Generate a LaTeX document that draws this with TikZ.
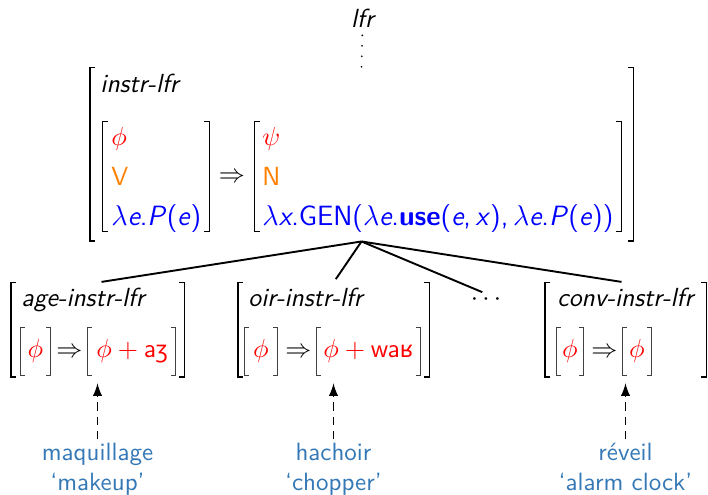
\documentclass[tikz,border=0pt]{standalone}
\usepackage{fontspec}
\newfontfamily\ipafont[Scale=0.88]{Noto Sans}
\usetikzlibrary{fit,positioning,arrows,calc}
\definecolor{phon}{RGB}{255,0,0}
\definecolor{cat}{RGB}{255,128,0}
\definecolor{sem}{RGB}{0,0,255}
\definecolor{glossblue}{RGB}{52,120,182}
\tikzset{
  every node/.style={inner sep=0pt, font=\sffamily\fontsize{11}{13}\selectfont},
  typ/.style={anchor=base west, font=\sffamily\itshape\fontsize{11}{13}\selectfont},
  row/.style={anchor=base west},
  semrow/.style={anchor=base west, font=\sffamily\fontsize{11.7}{14}\selectfont},
  sym/.style={anchor=base},
  box/.style={inner sep=0pt},
  outerbrk/.style={line width=0.82pt},
  innerbrk/.style={line width=0.8pt},
  featbrk/.style={line width=0.6pt, black!75},
  branch/.style={line width=0.8pt, shorten >=1.7pt},
  treedots/.style={line width=0.8pt, line cap=round, dash pattern=on 0pt off 4.4pt, shorten <=2.9pt},
  connect/.style={-latex, line width=0.8pt, dash pattern=on 3.6pt off 2.4pt, shorten <=1.5pt, shorten >=2.5pt},
  gloss/.style={text=glossblue, align=center, font=\sffamily\fontsize{10.5}{12.4}\selectfont}
}
\newcommand{\ipa}[1]{{\ipafont #1}}
% square brackets round a box node
\newcommand{\avmbrackets}[3][2.5pt]{%
  \draw[#2] ([xshift=#1]#3.north west) -- (#3.north west) -- (#3.south west) -- ([xshift=#1]#3.south west);
  \draw[#2] ([xshift=-#1]#3.north east) -- (#3.north east) -- (#3.south east) -- ([xshift=-#1]#3.south east);}

\begin{document}
\begin{tikzpicture}[x=0.42pt, y=-0.42pt]
  \useasboundingbox (0,0) rectangle (708,495);
  \node[typ, anchor=base] (lfr) at (362.5,28) {lfr};

  % instr-lfr
  \node[box, fit={(90,68) (633,241)}] (instr) {};
  \node[typ] (instrtype) at (100,93) {instr-lfr};
  \node[box, fit={(103,122) (209,231)}] (instrin) {};
  \node[row] (phi) at (111,146) {\textcolor{phon}{$\phi$}};
  \node[row] (verb) at (111,186) {\textcolor{cat}{V}};
  \node[semrow] (semin) at (111,226) {\textcolor{sem}{$\lambda$\textit{e}.\textit{P}(\textit{e})}};
  \node[sym] (instrarr) at (232,183) {$\Rightarrow$};
  \node[box, fit={(255,122) (621,231)}] (instrout) {};
  \node[row] (psi) at (262,146) {\textcolor{phon}{$\psi$}};
  \node[row] (noun) at (262,186) {\textcolor{cat}{N}};
  \node[semrow] (semout) at (262,226) {\textcolor{sem}{$\lambda$\textit{x}.GEN($\lambda$\textit{e}.\textbf{use}(\textit{e},\,\textit{x}),\,$\lambda$\textit{e}.\textit{P}(\textit{e}))}};

  % age-instr-lfr
  \node[box, fit={(11,283) (184,377)}] (age) {};
  \node[typ] (agetype) at (21,307) {age-instr-lfr};
  \node[box, fit={(21,328) (50,375)}] (agein) {};
  \node[sym] (agephi) at (35.5,358) {\textcolor{phon}{$\phi$}};
  \node[sym] (agearr) at (69.5,358) {$\Rightarrow$};
  \node[box, fit={(88,328) (175,375)}] (ageout) {};
  \node[row] (agesuf) at (96,358) {\textcolor{phon}{$\phi+\mbox{a\ipa{ʒ}}$}};

  % oir-instr-lfr
  \node[box, fit={(238,283) (429,377)}] (oir) {};
  \node[typ] (oirtype) at (248,307) {oir-instr-lfr};
  \node[box, fit={(245,328) (277,375)}] (oirin) {};
  \node[sym] (oirphi) at (261,358) {\textcolor{phon}{$\phi$}};
  \node[sym] (oirarr) at (298.5,358) {$\Rightarrow$};
  \node[box, fit={(317,328) (420,375)}] (oirout) {};
  \node[row] (oirsuf) at (323,358) {\textcolor{phon}{$\phi+\mbox{wa\ipa{ʁ}}$}};

  \node (more) at (486,300) {$\cdots$};

  % conv-instr-lfr
  \node[box, fit={(545,283) (706,377)}] (conv) {};
  \node[typ] (convtype) at (557,307) {conv-instr-lfr};
  \node[box, fit={(557,328) (583,375)}] (convin) {};
  \node[sym] (convphi) at (570,358) {\textcolor{phon}{$\phi$}};
  \node[sym] (convarr) at (604.5,358) {$\Rightarrow$};
  \node[box, fit={(623,328) (651,375)}] (convout) {};
  \node[sym] (convsuf) at (637,358) {\textcolor{phon}{$\phi$}};

  \avmbrackets{outerbrk}{instr}
  \avmbrackets[2.2pt]{innerbrk}{instrin}
  \avmbrackets[2.2pt]{innerbrk}{instrout}
  \foreach \n in {age,oir,conv}{
    \avmbrackets[2.4pt]{outerbrk}{\n}
    \avmbrackets[1.8pt]{featbrk}{\n in}
    \avmbrackets[1.8pt]{featbrk}{\n out}
  }

  \node[gloss, below=27.5pt of age] (maq) {maquillage\\‘makeup’};
  \node[gloss, below=27.5pt of oir] (hach) {hachoir\\‘chopper’};
  \node[gloss, below=27.5pt of conv] (rev) {réveil\\‘alarm clock’};

  \draw[treedots] (lfr.south) -- (instr.north);
  \path (instr.south) edge [branch] (age.north)
        (instr.south) edge [branch] (oir.north)
        (instr.south) edge [branch] (more.north)
        (instr.south) edge [branch] (conv.north);
  \path (maq) edge [connect] (age)
        (hach) edge [connect] (oir)
        (rev) edge [connect] (conv);
\end{tikzpicture}
\end{document}
